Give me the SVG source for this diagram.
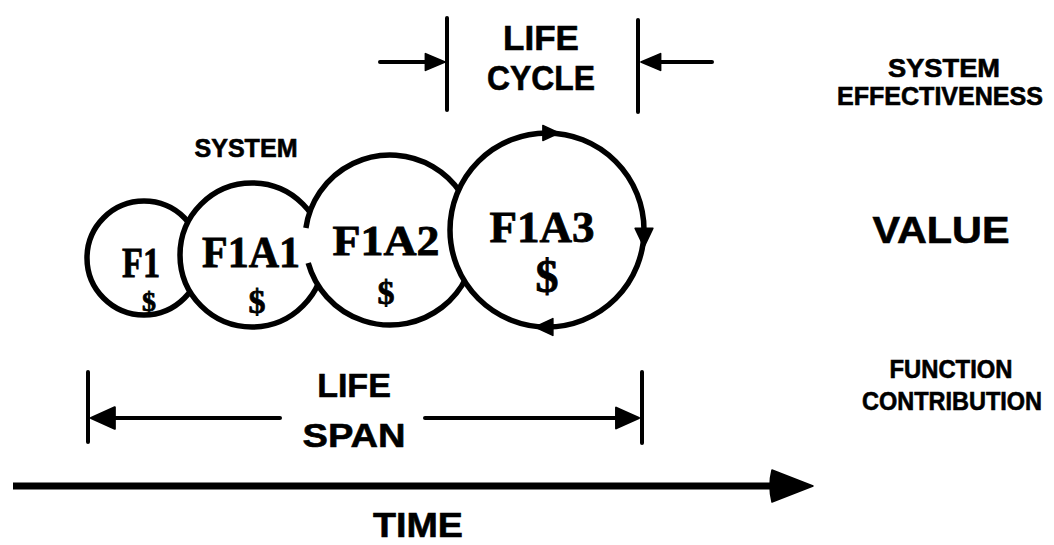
<svg xmlns="http://www.w3.org/2000/svg" width="1054" height="545" viewBox="0 0 1054 545">
<style>
.circ{fill:#fff;stroke:#000;stroke-width:5.5}
.arc{fill:none;stroke:#000;stroke-width:5.5}
.ln{stroke:#000;stroke-width:4;fill:none;stroke-linecap:round}
.thick{stroke:#000;stroke-width:7;fill:none}
.head{fill:#000;stroke:#000;stroke-width:1.5;stroke-linejoin:round}
.sans{font-family:"Liberation Sans",Arial,sans-serif;font-weight:bold;fill:#000;stroke:#000;stroke-width:0.6;text-anchor:middle}
.serif{font-family:"Liberation Serif","Times New Roman",serif;font-weight:bold;fill:#000;stroke:#000;stroke-width:0.8;text-anchor:middle}
</style>
<defs>
<path id="tri" d="M0 0 L-17 -8 L-17 8 Z"/>
</defs>
<rect width="1054" height="545" fill="#fff"/>

<g id="connectors">
  <line class="ln" x1="447" y1="18" x2="447" y2="110"/>
  <line class="ln" x1="638" y1="20" x2="638" y2="112"/>
  <line class="ln" x1="380" y1="62" x2="428" y2="62"/>
  <use href="#tri" class="head" transform="translate(445,62) scale(1.15 1.05)"/>
  <line class="ln" x1="658" y1="62" x2="712" y2="62"/>
  <use href="#tri" class="head" transform="translate(641,62) rotate(180) scale(1.15 1.05)"/>
  <line class="ln" x1="88" y1="372" x2="88" y2="442"/>
  <line class="ln" x1="642" y1="372" x2="642" y2="443"/>
  <line class="ln" x1="105" y1="418" x2="280" y2="418"/>
  <use href="#tri" class="head" transform="translate(91,418) rotate(180) scale(1.4 1.35)"/>
  <line class="ln" x1="425" y1="418" x2="625" y2="418"/>
  <use href="#tri" class="head" transform="translate(639,418) scale(1.35 1.3)"/>
  <line class="thick" x1="13" y1="486" x2="780" y2="486"/>
  <path class="head" d="M813 486 L772 470 Q768 486 772 502 Z"/>
</g>

<g id="node-F1">
  <circle class="circ" cx="144" cy="258" r="57"/>
  <text class="serif" x="141" y="277" font-size="42" textLength="38" lengthAdjust="spacingAndGlyphs">F1</text>
  <text class="serif" x="149" y="311" font-size="28">$</text>
</g>

<g id="node-F1A1">
  <circle class="circ" cx="252" cy="255" r="72"/>
  <text class="serif" x="251" y="267" font-size="44" textLength="98" lengthAdjust="spacingAndGlyphs">F1A1</text>
  <text class="serif" x="257" y="313" font-size="34">$</text>
</g>

<g id="node-F1A2">
  <circle cx="390" cy="240" r="85" fill="#fff"/>
  <path class="arc" d="M305.9 228 A85 85 0 1 1 308.2 263"/>
  <text class="serif" x="386" y="255" font-size="43" textLength="107" lengthAdjust="spacingAndGlyphs">F1A2</text>
  <text class="serif" x="386" y="304" font-size="34">$</text>
</g>

<g id="node-F1A3">
  <circle class="circ" cx="547" cy="230" r="97"/>
  <use href="#tri" class="head" transform="translate(559,133) scale(0.95)"/>
  <use href="#tri" class="head" transform="translate(644,247) rotate(90) scale(1.1)"/>
  <use href="#tri" class="head" transform="translate(535,327) rotate(180) scale(1.05)"/>
  <text class="serif" x="542" y="242" font-size="45" textLength="105" lengthAdjust="spacingAndGlyphs">F1A3</text>
  <text class="serif" x="547" y="292" font-size="46">$</text>
</g>

<g id="label-system">
  <text class="sans" x="246" y="157" font-size="25" textLength="103" lengthAdjust="spacingAndGlyphs">SYSTEM</text>
</g>

<g id="label-life-cycle">
  <text class="sans" x="541" y="50" font-size="35">LIFE</text>
  <text class="sans" x="541" y="90" font-size="35" textLength="108" lengthAdjust="spacingAndGlyphs">CYCLE</text>
</g>

<g id="label-life-span">
  <text class="sans" x="354" y="397" font-size="34">LIFE</text>
  <text class="sans" x="354" y="447" font-size="34" textLength="103" lengthAdjust="spacingAndGlyphs">SPAN</text>
</g>

<g id="label-time">
  <text class="sans" x="418" y="537" font-size="35" textLength="90" lengthAdjust="spacingAndGlyphs">TIME</text>
</g>

<g id="label-system-effectiveness">
  <text class="sans" x="944" y="77" font-size="25" textLength="112" lengthAdjust="spacingAndGlyphs">SYSTEM</text>
  <text class="sans" x="940" y="105" font-size="25" textLength="206" lengthAdjust="spacingAndGlyphs">EFFECTIVENESS</text>
</g>

<g id="label-value">
  <text class="sans" x="941" y="243" font-size="37" textLength="137" lengthAdjust="spacingAndGlyphs">VALUE</text>
</g>

<g id="label-function-contribution">
  <text class="sans" x="951" y="378" font-size="25" textLength="123" lengthAdjust="spacingAndGlyphs">FUNCTION</text>
  <text class="sans" x="952" y="410" font-size="25" textLength="180" lengthAdjust="spacingAndGlyphs">CONTRIBUTION</text>
</g>
</svg>
